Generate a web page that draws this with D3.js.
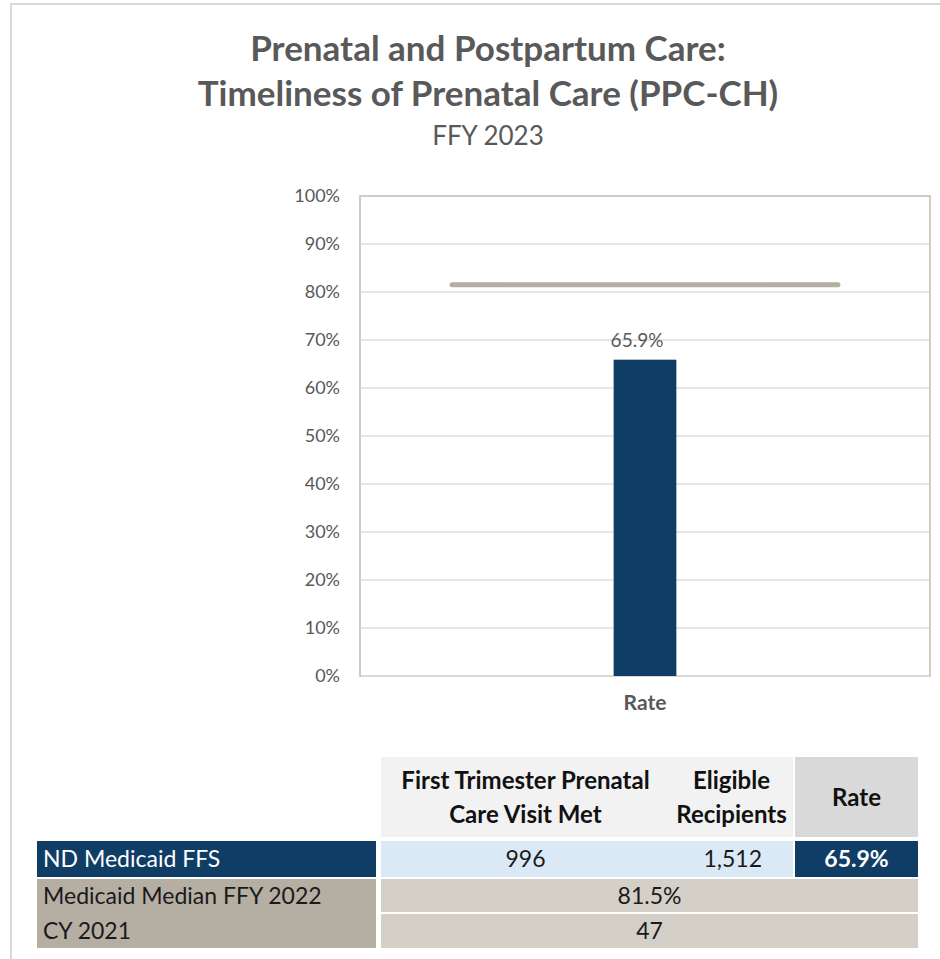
<!DOCTYPE html>
<html>
<head>
<meta charset="utf-8">
<script src="https://cdn.jsdelivr.net/npm/d3@7"></script>
<style>
  html, body { margin: 0; padding: 0; background: #fff; }
  svg { display: block; font-family: Lato, 'Open Sans', sans-serif; }
</style>
</head>
<body>
<div id="container"></div>
<script>
// DATA
const titleLines = ['Prenatal and Postpartum Care:', 'Timeliness of Prenatal Care (PPC-CH)'];
const subtitle = 'FFY 2023';
const categories = ['Rate'];
const rateValues = [0.659];
const medianValues = [0.815];
const yTickValues = [0, 0.1, 0.2, 0.3, 0.4, 0.5, 0.6, 0.7, 0.8, 0.9, 1.0];

const tableHeaders = [
  ['First Trimester Prenatal', 'Care Visit Met'],
  ['Eligible', 'Recipients'],
  ['Rate']
];
const ndRow = ['ND Medicaid FFS', '996', '1,512', '65.9%'];
const medianRow = ['Medicaid Median FFY 2022', '81.5%'];
const countRow = ['CY 2021', '47'];

const svgWidth = 940;
const svgHeight = 959;

const navy = '#0f3d66';
const taupe = '#b5afa3';
const textGray = '#595959';

const svg = d3
  .select('#container')
  .append('svg')
  .attr('width', svgWidth)
  .attr('height', svgHeight);

// outer chart border
svg
  .append('path')
  .attr('d', `M11,${svgHeight + 5} V4 H${svgWidth + 5}`)
  .attr('fill', 'none')
  .attr('stroke', '#d9d9d9')
  .attr('stroke-width', 2);

// TITLE
svg
  .selectAll('.title')
  .data(titleLines)
  .enter()
  .append('text')
  .attr('class', 'title')
  .attr('x', 488)
  .attr('y', (d, i) => 61 + i * 45)
  .attr('text-anchor', 'middle')
  .attr('font-size', 35)
  .attr('font-weight', 'bold')
  .attr('fill', textGray)
  .text(d => d);

svg
  .append('text')
  .attr('x', 488)
  .attr('y', 145)
  .attr('text-anchor', 'middle')
  .attr('font-size', 26)
  .attr('fill', textGray)
  .text(subtitle);

// PLOT AREA
const plot = { left: 360, right: 930, top: 196, bottom: 676 };

const yScale = d3.scaleLinear().domain([0, 1]).range([plot.bottom, plot.top]);

const xScale = d3
  .scaleBand()
  .domain(categories)
  .range([plot.left, plot.right])
  .paddingInner(0.89)
  .paddingOuter(0.445);

const xLine = d3
  .scaleBand()
  .domain(categories)
  .range([plot.left, plot.right])
  .paddingInner(0.323)
  .paddingOuter(0.1615);

svg
  .append('rect')
  .attr('x', plot.left)
  .attr('y', plot.top)
  .attr('width', plot.right - plot.left)
  .attr('height', plot.bottom - plot.top)
  .attr('fill', '#fff')
  .attr('stroke', '#c3bdb1')
  .attr('stroke-width', 1.5);

// gridlines
svg
  .selectAll('.grid')
  .data(yTickValues.slice(0, -1))
  .enter()
  .append('line')
  .attr('class', 'grid')
  .attr('x1', plot.left + 1)
  .attr('x2', plot.right - 1)
  .attr('y1', d => yScale(d))
  .attr('y2', d => yScale(d))
  .attr('stroke', '#dcdcdc')
  .attr('stroke-width', 1.5);

// Y-AXIS
const yAxis = d3
  .axisLeft(yScale)
  .tickValues(yTickValues)
  .tickFormat(d3.format('.0%'))
  .tickSize(0)
  .tickPadding(20);

const yAxisG = svg
  .append('g')
  .attr('transform', `translate(${plot.left}, 0)`)
  .call(yAxis);

yAxisG.select('.domain').remove();
yAxisG
  .selectAll('text')
  .attr('font-family', 'Lato, sans-serif')
  .attr('font-size', 18)
  .attr('fill', textGray);

// X-AXIS
const xAxis = d3.axisBottom(xScale).tickSize(0).tickPadding(19);

const xAxisG = svg
  .append('g')
  .attr('transform', `translate(0, ${plot.bottom})`)
  .call(xAxis);

xAxisG.select('.domain').remove();
xAxisG
  .selectAll('text')
  .attr('font-family', 'Lato, sans-serif')
  .attr('font-size', 21)
  .attr('font-weight', 'bold')
  .attr('fill', textGray);

// BARS
svg
  .selectAll('.bar')
  .data(rateValues)
  .enter()
  .append('rect')
  .attr('class', 'bar')
  .attr('x', (d, i) => xScale(categories[i]))
  .attr('y', d => yScale(d))
  .attr('width', xScale.bandwidth())
  .attr('height', d => plot.bottom - yScale(d))
  .attr('fill', navy);

svg
  .selectAll('.bar-label')
  .data(rateValues)
  .enter()
  .append('text')
  .attr('class', 'bar-label')
  .attr('x', (d, i) => xScale(categories[i]) + xScale.bandwidth() / 2 - 8)
  .attr('y', d => yScale(d) - 13)
  .attr('text-anchor', 'middle')
  .attr('font-size', 19)
  .attr('fill', textGray)
  .text(d => d3.format('.1%')(d));

// MEDIAN LINE
svg
  .selectAll('.median')
  .data(medianValues)
  .enter()
  .append('line')
  .attr('class', 'median')
  .attr('x1', (d, i) => xLine(categories[i]))
  .attr('x2', (d, i) => xLine(categories[i]) + xLine.bandwidth())
  .attr('y1', d => yScale(d))
  .attr('y2', d => yScale(d))
  .attr('stroke', taupe)
  .attr('stroke-width', 5)
  .attr('stroke-linecap', 'round');

// TABLE
const cols = [
  { x0: 37, x1: 376 },
  { x0: 381, x1: 670 },
  { x0: 670, x1: 793 },
  { x0: 795, x1: 918 }
];
const rows = [
  { y0: 757, y1: 837 },
  { y0: 841, y1: 877 },
  { y0: 879, y1: 912 },
  { y0: 914, y1: 948 }
];
const cellFont = 23;

const table = svg.append('g').attr('class', 'table');

const cell = (x0, x1, y0, y1, fill) =>
  table
    .append('rect')
    .attr('x', x0)
    .attr('y', y0)
    .attr('width', x1 - x0)
    .attr('height', y1 - y0)
    .attr('fill', fill);

const label = (x, y, txt, opts = {}) =>
  table
    .append('text')
    .attr('x', x)
    .attr('y', y)
    .attr('text-anchor', opts.anchor || 'middle')
    .attr('font-size', opts.size || cellFont)
    .attr('font-weight', opts.bold ? 'bold' : 'normal')
    .attr('fill', opts.color || '#1a1a1a')
    .text(txt);

// header row
cell(cols[1].x0, cols[2].x1, rows[0].y0, rows[0].y1, '#f2f2f2');
cell(cols[3].x0, cols[3].x1, rows[0].y0, rows[0].y1, '#d9d9d9');

tableHeaders.forEach((lines, i) => {
  const c = cols[i + 1];
  const cx = (c.x0 + c.x1) / 2;
  const mid = (rows[0].y0 + rows[0].y1) / 2;
  lines.forEach((ln, j) => {
    const y = mid + 8.5 + (j - (lines.length - 1) / 2) * 34;
    label(cx, y, ln, { bold: true, color: '#111', size: 24 });
  });
});

// ND Medicaid row
cell(cols[0].x0, cols[0].x1, rows[1].y0, rows[1].y1, navy);
cell(cols[1].x0, cols[2].x1, rows[1].y0, rows[1].y1, '#dbe9f7');
cell(cols[3].x0, cols[3].x1, rows[1].y0, rows[1].y1, navy);
const r1y = (rows[1].y0 + rows[1].y1) / 2 + 8;
label(cols[0].x0 + 6, r1y, ndRow[0], { anchor: 'start', color: '#fff' });
label((cols[1].x0 + cols[1].x1) / 2, r1y, ndRow[1]);
label(cols[2].x1 - 31, r1y, ndRow[2], { anchor: 'end' });
label((cols[3].x0 + cols[3].x1) / 2, r1y, ndRow[3], { bold: true, color: '#fff' });

// median + count rows
cell(cols[0].x0, cols[0].x1, rows[2].y0, rows[3].y1, taupe);
[medianRow, countRow].forEach((r, i) => {
  const row = rows[i + 2];
  const ry = (row.y0 + row.y1) / 2 + 8;
  cell(cols[1].x0, cols[3].x1, row.y0, row.y1, '#d4cfc7');
  label(cols[0].x0 + 6, ry, r[0], { anchor: 'start' });
  label((cols[1].x0 + cols[3].x1) / 2, ry, r[1]);
});
</script>
</body>
</html>
